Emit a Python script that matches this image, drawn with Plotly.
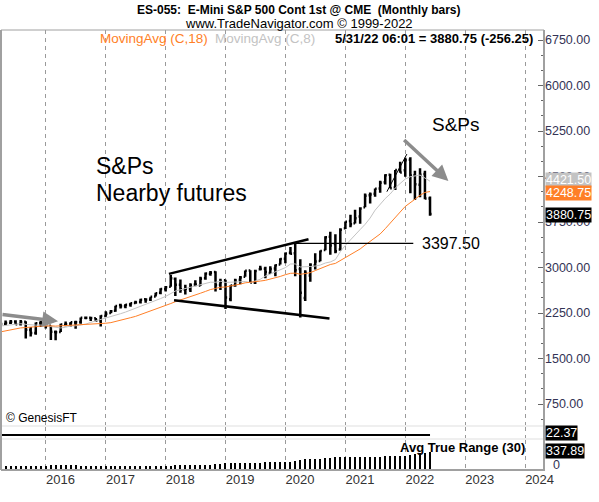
import pandas as pd
import plotly.graph_objects as go

# closes before the visible window, only used to warm up the moving averages (Oct 2013 - Feb 2015)
warmup_close = [1756.5, 1805.8, 1848.4, 1782.6, 1859.5, 1872.3, 1884.0, 1923.6, 1960.2,
                1930.7, 2003.4, 1972.3, 2018.1, 2067.6, 2058.9, 1995.0, 2104.5]

# monthly bars, Mar 2015 - May 2022
bar_open = [
    2105.2, 2067.6, 2087.4, 2108.6, 2067.0, 2104.5, 1970.1, 1919.7, 2080.8, 2082.9,
    2038.2, 1936.9, 1937.1, 2056.6, 2067.2, 2093.9, 2099.3, 2173.2, 2171.3, 2164.3, 2128.7, 2200.2,
    2251.6, 2285.6, 2380.1, 2362.3, 2388.5, 2415.7, 2431.4, 2477.1, 2474.4, 2521.2, 2583.2, 2645.1,
    2683.7, 2816.5, 2715.2, 2633.5, 2643.0, 2718.7, 2705.0, 2821.2, 2897.0, 2926.3, 2717.6, 2790.5,
    2477.0, 2702.3, 2798.2, 2848.6, 2952.3, 2751.5, 2971.4, 2980.3, 2909.0, 2983.7, 3050.7, 3143.9,
    3244.7, 3235.7, 2974.3, 2498.1, 2869.1, 3038.8, 3105.9, 3288.3, 3507.4, 3385.9, 3296.2, 3645.9,
    3764.6, 3731.2, 3842.5, 3992.8, 4192.0, 4216.5, 4300.7, 4406.9, 4528.8, 4317.2, 4610.6, 4602.8,
    4778.1, 4519.6, 4363.1, 4540.3, 4137.0,
]
bar_high = [
    2117.5, 2125.9, 2134.7, 2129.9, 2132.8, 2112.7, 2020.9, 2094.3, 2116.5, 2104.3,
    2038.2, 1962.9, 2072.2, 2111.1, 2103.5, 2120.6, 2177.1, 2193.8, 2187.9, 2169.6, 2214.1, 2277.5,
    2301.0, 2371.5, 2401.0, 2398.2, 2418.7, 2453.8, 2484.0, 2490.9, 2519.4, 2583.0, 2657.7, 2695.0,
    2878.5, 2836.0, 2801.9, 2717.5, 2742.2, 2791.5, 2848.0, 2916.5, 2940.9, 2939.9, 2815.1, 2800.2,
    2709.0, 2813.5, 2860.3, 2949.5, 2954.1, 2964.2, 3028.0, 3013.6, 3022.0, 3050.1, 3154.3, 3247.9,
    3337.8, 3397.5, 3136.7, 2954.9, 3068.7, 3233.1, 3280.0, 3514.8, 3588.1, 3549.9, 3646.0, 3760.2,
    3870.9, 3950.4, 3994.4, 4218.8, 4238.0, 4302.4, 4430.0, 4537.4, 4545.9, 4608.1, 4743.8, 4808.9,
    4818.6, 4595.3, 4637.3, 4593.5, 4169.8,
]
bar_low = [
    2039.7, 2048.4, 2067.9, 2056.3, 2044.0, 1831.0, 1862.0, 1893.7, 2019.4, 1993.3,
    1804.0, 1802.0, 1937.1, 2033.8, 2025.9, 1991.7, 2074.0, 2147.6, 2119.1, 2114.7, 2028.5, 2187.4,
    2245.1, 2271.7, 2322.3, 2328.9, 2352.7, 2405.7, 2407.7, 2417.4, 2446.6, 2520.4, 2557.5, 2605.5,
    2682.4, 2529.0, 2585.9, 2553.8, 2594.6, 2692.0, 2699.0, 2796.3, 2864.1, 2603.5, 2631.1, 2316.8,
    2444.0, 2681.8, 2722.3, 2848.6, 2750.5, 2728.8, 2952.2, 2822.1, 2891.9, 2855.9, 3050.7, 3070.3,
    3214.6, 2855.8, 2174.0, 2447.5, 2766.6, 2965.7, 3101.2, 3284.5, 3209.5, 3233.9, 3279.7, 3633.4,
    3662.7, 3725.6, 3723.3, 3992.8, 4056.9, 4164.4, 4233.1, 4367.7, 4305.9, 4278.9, 4560.0, 4495.1,
    4222.6, 4114.7, 4157.9, 4124.3, 3855.0,
]
bar_close = [
    2067.9, 2085.5, 2107.4, 2063.1, 2103.8, 1972.2, 1920.0, 2079.4, 2080.4, 2043.9,
    1940.2, 1932.2, 2059.7, 2065.3, 2097.0, 2098.9, 2173.6, 2171.0, 2168.3, 2126.2, 2198.8, 2238.8,
    2278.9, 2363.6, 2362.7, 2384.2, 2411.8, 2423.4, 2470.3, 2471.7, 2519.4, 2575.3, 2647.6, 2673.6,
    2823.8, 2713.8, 2640.9, 2648.1, 2705.3, 2718.4, 2816.3, 2901.5, 2914.0, 2711.7, 2760.2, 2506.9,
    2704.1, 2784.5, 2834.4, 2945.8, 2752.1, 2941.8, 2980.4, 2926.5, 2976.7, 3037.6, 3141.0, 3230.8,
    3225.5, 2954.2, 2584.6, 2912.4, 3044.3, 3100.3, 3271.1, 3500.3, 3363.0, 3270.0, 3621.6, 3756.1,
    3714.2, 3811.2, 3972.9, 4181.2, 4204.1, 4297.5, 4395.3, 4522.7, 4307.5, 4605.4, 4567.0, 4766.2,
    4515.6, 4373.9, 4530.4, 4137.0, 3880.75,
]
# Avg True Range (30)
atr30 = [
    84, 84, 84, 84, 84, 84, 84, 84, 84, 84,
    86, 87, 87, 86, 85, 85, 84, 84, 83, 83, 84, 84,
    83, 82, 81, 80, 79, 78, 77, 77, 76, 76, 76, 77,
    82, 89, 93, 95, 96, 96, 97, 99, 98, 106, 110, 123,
    128, 128, 129, 131, 134, 137, 138, 141, 141, 143, 144, 147,
    147, 163, 190, 200, 205, 210, 213, 220, 230, 236, 243, 245,
    245, 248, 250, 252, 252, 252, 253, 255, 258, 262, 266, 272,
    287, 300, 313, 325, 338,
]
indicator_value = 22.37
year_ticks = ["2016", "2017", "2018", "2019", "2020", "2021", "2022", "2023", "2024"]
price_ticks = [750, 1500, 2250, 3000, 3750, 4500, 5250, 6000, 6750]

dates = pd.date_range("2015-03-31", periods=len(bar_close), freq="ME")
closes = pd.Series(warmup_close + bar_close)
ma18 = closes.rolling(18).mean().iloc[len(warmup_close):].tolist()
ma8 = closes.rolling(8).mean().iloc[len(warmup_close):].tolist()

FONT = "Liberation Sans, Arial, sans-serif"
ORANGE = "#ff7f27"
LIGHT = "#c3c3c3"
GRID = "#9a9a9a"


def px(x):
    return (x - 1) / 543


def py(y):
    return (470 - y) / 440


fig = go.Figure()
fig.add_trace(go.Scatter(x=dates, y=ma8, mode="lines", line=dict(color=LIGHT, width=1),
                         yaxis="y", hoverinfo="skip"))
fig.add_trace(go.Scatter(x=dates, y=ma18, mode="lines", line=dict(color=ORANGE, width=1),
                         yaxis="y", hoverinfo="skip"))
fig.add_trace(go.Ohlc(x=dates, open=bar_open, high=bar_high, low=bar_low, close=bar_close,
                      increasing=dict(line=dict(color="black", width=2.5)),
                      decreasing=dict(line=dict(color="black", width=2.5)),
                      tickwidth=0.35, yaxis="y"))
fig.add_trace(go.Scatter(x=[dates[0], dates[-1]], y=[indicator_value, indicator_value],
                         mode="lines", line=dict(color="black", width=2), yaxis="y2"))
fig.add_trace(go.Bar(x=dates, y=atr30, marker=dict(color="black", line=dict(width=0)),
                     width=7 * 86400000, yaxis="y3"))

fig.update_layout(
    width=599, height=502,
    margin=dict(l=1, r=55, t=30, b=32),
    paper_bgcolor="white", plot_bgcolor="white",
    showlegend=False,
    font=dict(family=FONT, color="#333"),
    xaxis=dict(
        type="date", range=["2015-04-02", "2024-04-25"], anchor="y3",
        tickvals=[f"{y}-01-01" for y in year_ticks], ticktext=year_ticks,
        ticklabelposition="outside right", ticks="", showline=False,
        showgrid=True, gridcolor=GRID, griddash="4px,4px", gridwidth=1,
        tickfont=dict(size=13, color="#333"), rangeslider=dict(visible=False),
        zeroline=False,
    ),
    yaxis=dict(
        domain=[py(425), 1], range=[404, 6915], side="right", anchor="x",
        tickvals=price_ticks, tickformat=".2f", ticks="inside", ticklen=6,
        tickcolor="#666", minor=dict(ticks="inside", ticklen=3, dtick=250, tickcolor="#666"),
        showgrid=False, zeroline=False, tickfont=dict(size=12.5, color="#333355"),
    ),
    yaxis2=dict(domain=[py(438), py(427)], range=[18, 34], side="right", anchor="x",
                showticklabels=False, showgrid=False, zeroline=False),
    yaxis3=dict(domain=[0, py(440)], range=[0, 563], side="right", anchor="x",
                showticklabels=False, showgrid=False, zeroline=False),
    bargap=0,
)

shapes = [
    # panel separators
    dict(type="rect", xref="paper", yref="paper", x0=0, x1=px(544), y0=py(427), y1=py(425),
         fillcolor="#efefef", line_width=0, layer="below"),
    dict(type="rect", xref="paper", yref="paper", x0=0, x1=px(544), y0=py(440), y1=py(438),
         fillcolor="#efefef", line_width=0, layer="below"),
    # frame
    dict(type="line", xref="paper", yref="paper", x0=px(544), x1=px(544), y0=0, y1=1,
         line=dict(color="#a0a0a0", width=2)),
    dict(type="line", xref="paper", yref="paper", x0=0, x1=0, y0=0, y1=1,
         line=dict(color="#a0a0a0", width=2)),
    dict(type="line", xref="paper", yref="paper", x0=0, x1=px(544), y0=1, y1=1,
         line=dict(color="#a0a0a0", width=1)),
    dict(type="line", xref="paper", yref="paper", x0=0, x1=px(545), y0=0, y1=0,
         line=dict(color="#a0a0a0", width=2)),
    # broadening formation
    dict(type="line", xref="x", yref="y", x0="2018-01-20", y0=2895, x1="2020-05-20", y1=3465,
         line=dict(color="black", width=2.5)),
    dict(type="line", xref="x", yref="y", x0="2018-02-20", y0=2460, x1="2020-09-25", y1=2160,
         line=dict(color="black", width=2.5)),
    # 3397.50 level
    dict(type="line", xref="x", yref="y", x0="2020-02-29", y0=3397.5, x1="2022-02-18", y1=3397.5,
         line=dict(color="black", width=1.2)),
    # thin trendline along the 2021 run
    dict(type="line", xref="x", yref="y", x0="2021-09-10", y0=4250, x1="2022-01-10", y1=4870,
         line=dict(color="black", width=1)),
]

annotations = [
    dict(text="<b>ES-055:  E-Mini S&P 500 Cont 1st @ CME  (Monthly bars)</b>", x=px(299), y=py(10),
         font=dict(size=12, color="black")),
    dict(text="www.TradeNavigator.com © 1999-2022", x=px(299), y=py(24),
         font=dict(size=13, color="black")),
    dict(text="MovingAvg (C,18)", x=px(98), y=py(38), xanchor="left",
         font=dict(size=13.5, color=ORANGE)),
    dict(text="MovingAvg (C,8)", x=px(213), y=py(38), xanchor="left",
         font=dict(size=13.5, color=LIGHT)),
    dict(text="<b>5/31/22 06:01 = 3880.75 (-256.25)</b>", x=px(333), y=py(38), xanchor="left",
         font=dict(size=13, color="black")),
    dict(text="S&Ps", x=px(94), y=py(166), xanchor="left", font=dict(size=23, color="black")),
    dict(text="Nearby futures", x=px(94), y=py(193), xanchor="left",
         font=dict(size=23, color="black")),
    dict(text="S&Ps", x=px(430), y=py(124), xanchor="left", font=dict(size=19, color="black")),
    dict(text="© GenesisFT", x=px(4), y=py(418), xanchor="left", font=dict(size=12, color="black")),
    dict(text="<b>Avg True Range (30)</b>", x=px(398), y=py(447), xanchor="left",
         font=dict(size=13, color="black")),
    # right-hand value flags
    dict(text="4421.50", x=px(545), y=py(180), xanchor="left", bgcolor=LIGHT, borderpad=0,
         font=dict(size=12.5, color="white")),
    dict(text="4248.75", x=px(545), y=py(193), xanchor="left", bgcolor=ORANGE, borderpad=0,
         font=dict(size=12.5, color="white")),
    dict(text="3880.75", x=px(545), y=py(215), xanchor="left", bgcolor="black", borderpad=0,
         font=dict(size=12.5, color="white")),
    dict(text="22.37", x=px(545), y=py(433), xanchor="left", bgcolor="black", borderpad=0,
         font=dict(size=12.5, color="white")),
    dict(text="337.89", x=px(545), y=py(451), xanchor="left", bgcolor="black", borderpad=0,
         font=dict(size=12.5, color="white")),
    dict(text="0", x=px(551), y=py(465), xanchor="left", font=dict(size=12.5, color="#333355")),
]
for a in annotations:
    a.update(xref="paper", yref="paper", showarrow=False, yanchor="middle")

# level label and the two grey arrows
annotations += [
    dict(text="3397.50", xref="x", yref="y", x="2022-04-01", y=3397.5, xanchor="left",
         showarrow=False, font=dict(size=16, color="black")),
    dict(text="", xref="x", yref="y", axref="x", ayref="y", x="2016-03-15", y=2115,
         ax="2015-04-02", ay=2230, showarrow=True, arrowhead=2, arrowsize=0.9,
         arrowwidth=3.5, arrowcolor="#8c8c8c"),
    dict(text="", xref="x", yref="y", axref="x", ayref="y", x="2022-09-20", y=4426,
         ax="2021-12-15", ay=5124, showarrow=True, arrowhead=2, arrowsize=0.9,
         arrowwidth=3.5, arrowcolor="#8c8c8c"),
]

fig.update_layout(shapes=shapes, annotations=annotations)
# the page body gets an 8px margin by default; drop it so the 599x502 figure fills the window
fig.write_html("out.html", config={"displayModeBar": False},
               post_script="document.body.style.margin='0';"
                           "document.body.style.overflow='hidden';")
